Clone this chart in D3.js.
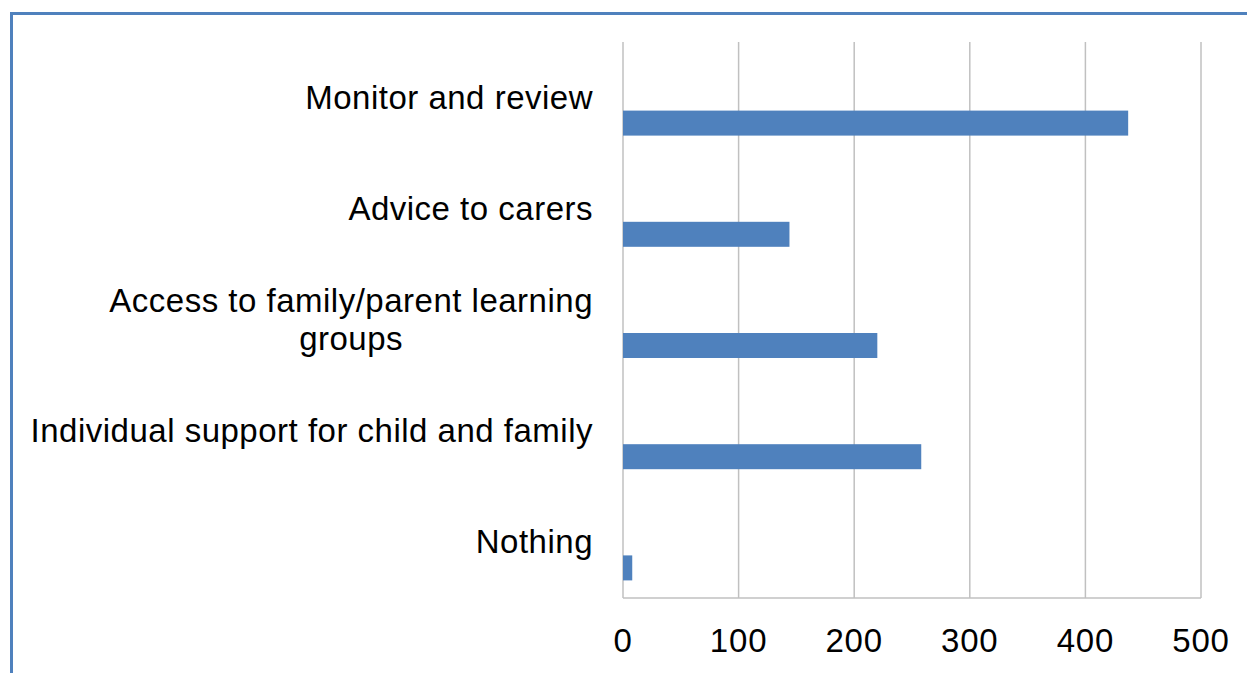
<!DOCTYPE html>
<html>
<head>
<meta charset="utf-8">
<script src="https://cdn.jsdelivr.net/npm/d3@7"></script>
<style>
  body { margin: 0; background: #fff; }
  svg { display: block; font-family: "Liberation Sans", Arial, sans-serif; }
</style>
</head>
<body>
<svg id="chart"></svg>
<script>
// ---- data ----
var categories = ["Monitor and review", "Advice to carers", "Access to family/parent learning groups", "Individual support for child and family", "Nothing"];
var labelLines = [["Monitor and review"], ["Advice to carers"], ["Access to family/parent learning", "groups"], ["Individual support for child and family"], ["Nothing"]];
var values = [437, 144, 220, 258, 8];
var xTicks = [0, 100, 200, 300, 400, 500];

var width = 1247, height = 673;
var plot = { left: 623, right: 1201, top: 42, bottom: 598 };

var svg = d3.select("#chart").attr("width", width).attr("height", height);

// outer frame
svg.append("rect")
  .attr("x", 11.5).attr("y", 13.5)
  .attr("width", width + 20).attr("height", height + 20)
  .attr("fill", "none")
  .attr("stroke", "#4f81bd")
  .attr("stroke-width", 3);

var x = d3.scaleLinear().domain([0, 500]).range([plot.left, plot.right]);
var y = d3.scaleBand().domain(categories).range([plot.top, plot.bottom]);

// gridlines
svg.append("g")
  .selectAll("line")
  .data(xTicks)
  .enter()
  .append("line")
  .attr("x1", d => x(d)).attr("x2", d => x(d))
  .attr("y1", plot.top).attr("y2", plot.bottom)
  .attr("stroke", "#c0c0c0")
  .attr("stroke-width", 1.5);

// bottom axis line
svg.append("line")
  .attr("x1", plot.left).attr("x2", plot.right)
  .attr("y1", plot.bottom).attr("y2", plot.bottom)
  .attr("stroke", "#c0c0c0")
  .attr("stroke-width", 1.5);

// bars
var barH = 25;
svg.append("g")
  .selectAll("rect")
  .data(values)
  .enter()
  .append("rect")
  .attr("x", x(0))
  .attr("y", (d, i) => y(categories[i]) + y.bandwidth() / 2 + 13)
  .attr("width", d => x(d) - x(0))
  .attr("height", barH)
  .attr("fill", "#4f81bd");

// x tick labels
svg.append("g")
  .selectAll("text")
  .data(xTicks)
  .enter()
  .append("text")
  .attr("x", d => x(d))
  .attr("y", 652)
  .attr("text-anchor", "middle")
  .attr("font-size", 33)
  .attr("letter-spacing", 0.8)
  .attr("fill", "#000")
  .text(d => d);

// category labels
var lineH = 38;
var labels = svg.append("g")
  .selectAll("text")
  .data(labelLines)
  .enter()
  .append("text")
  .attr("font-size", 33)
  .attr("letter-spacing", 0.5)
  .attr("fill", "#000")
  .attr("text-anchor", "middle");

labels.each(function(lines, i) {
  var t = d3.select(this);
  var cy = y(categories[i]) + y.bandwidth() / 2;
  var first = cy + 11 - (lines.length - 1) * lineH / 2;
  lines.forEach(function(l, j) {
    t.append("tspan").attr("y", first + j * lineH).text(l);
  });
  // right-align the block, centre the lines inside it
  var maxW = 0;
  t.selectAll("tspan").each(function() { maxW = Math.max(maxW, this.getComputedTextLength()); });
  t.selectAll("tspan").attr("x", 593 - maxW / 2);
});
</script>
</body>
</html>
